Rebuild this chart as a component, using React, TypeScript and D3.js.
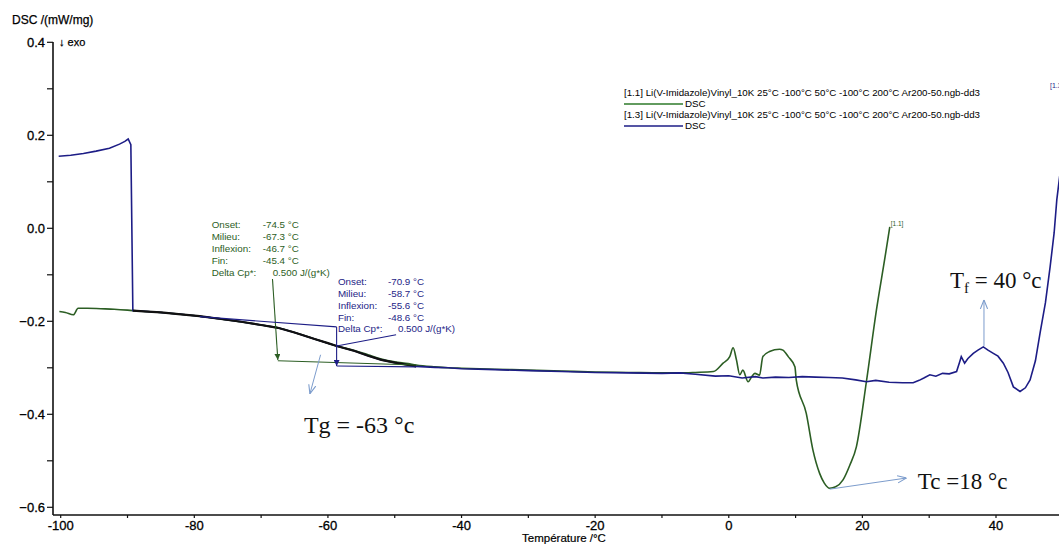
import React from "react";
import * as d3 from "d3";

// ---- data (°C, mW/mg) ----
const greenT = [-100.2, -99.3, -98.1, -97.4, -96, -94, -92, -90, -89.2, -87, -85, -82, -79.2, -76, -73, -70, -67.5, -65, -62, -60, -58.7, -56, -54, -52, -50, -48, -46.8, -44, -42, -40, -35, -30, -25, -20, -15, -10, -7.3, -5, -2.3, -0.85, 0.15, 0.65, 1.15, 1.65, 2.1, 2.9, 3.4, 3.9, 4.6, 5.1, 6.1, 7.6, 8.1, 8.9, 9.9, 10.1, 11.6, 12.6, 13.6, 14.3, 15.1, 16, 17.1, 18.1, 19.1, 20.6, 22.1, 23.4, 24.1];
const greenV = [-0.179, -0.181, -0.186, -0.172, -0.172, -0.173, -0.174, -0.176, -0.177, -0.179, -0.181, -0.185, -0.189, -0.195, -0.201, -0.208, -0.214, -0.224, -0.238, -0.247, -0.253, -0.263, -0.272, -0.281, -0.287, -0.291, -0.294, -0.298, -0.3, -0.301, -0.303, -0.305, -0.307, -0.309, -0.31, -0.311, -0.311, -0.31, -0.308, -0.29, -0.276, -0.257, -0.283, -0.315, -0.305, -0.33, -0.32, -0.312, -0.316, -0.276, -0.265, -0.26, -0.262, -0.276, -0.298, -0.326, -0.398, -0.477, -0.527, -0.548, -0.559, -0.556, -0.541, -0.51, -0.47, -0.33, -0.176, -0.061, 0.003];

const blueT = [-100.3, -98.5, -96.6, -94.7, -92.7, -91.2, -90.4, -89.9, -89.5, -89.2, -87, -85, -82, -79.2, -76, -73, -70, -67.5, -65, -62, -60, -58.7, -56, -54, -52, -50, -48, -46.8, -44, -42, -40, -35, -30, -25, -20, -15, -10, -7.3, -5, -2, 0, 2, 4, 5.1, 7, 9, 11, 13, 15, 17, 19, 20.6, 22, 24, 26, 27.6, 28.5, 29.2, 30.1, 31, 32, 33, 34.1, 34.5, 34.8, 35.3, 35.8, 36.6, 37.3, 38.1, 38.8, 39.6, 40.3, 41.1, 41.8, 42.6, 43.6, 44.4, 45.1, 45.9, 46.6, 47.4, 48.1, 48.7, 49.1, 49.6];
const blueV = [0.155, 0.157, 0.161, 0.166, 0.172, 0.181, 0.187, 0.192, 0.18, -0.177, -0.179, -0.181, -0.185, -0.189, -0.195, -0.201, -0.208, -0.214, -0.224, -0.238, -0.247, -0.253, -0.264, -0.274, -0.283, -0.289, -0.294, -0.297, -0.299, -0.3, -0.302, -0.304, -0.306, -0.308, -0.31, -0.311, -0.312, -0.311, -0.314, -0.318, -0.317, -0.322, -0.319, -0.322, -0.32, -0.321, -0.319, -0.32, -0.321, -0.322, -0.326, -0.33, -0.327, -0.331, -0.332, -0.332, -0.327, -0.322, -0.315, -0.318, -0.312, -0.313, -0.308, -0.29, -0.276, -0.29, -0.28, -0.269, -0.262, -0.255, -0.262, -0.269, -0.275, -0.29, -0.31, -0.341, -0.351, -0.343, -0.326, -0.285, -0.225, -0.16, -0.083, -0.01, 0.061, 0.12];

const xMajor = [-100, -80, -60, -40, -20, 0, 20, 40];
const xMinor = [-90, -70, -50, -30, -10, 10, 30, 50];
const yMajor = [0.4, 0.2, 0.0, -0.2, -0.4, -0.6];
const yMinor = [0.3, 0.1, -0.1, -0.3, -0.5];

const legendLabels = [
  "[1.1] Li(V-Imidazole)Vinyl_10K 25°C -100°C 50°C -100°C 200°C Ar200-50.ngb-dd3",
  "[1.3] Li(V-Imidazole)Vinyl_10K 25°C -100°C 50°C -100°C 200°C Ar200-50.ngb-dd3",
];

const greenBoxLabels = ["Onset:", "Milieu:", "Inflexion:", "Fin:", "Delta Cp*:"];
const greenBoxValues = ["-74.5 °C", "-67.3 °C", "-46.7 °C", "-45.4 °C", "0.500 J/(g*K)"];
const blueBoxLabels = ["Onset:", "Milieu:", "Inflexion:", "Fin:", "Delta Cp*:"];
const blueBoxValues = ["-70.9 °C", "-58.7 °C", "-55.6 °C", "-48.6 °C", "0.500 J/(g*K)"];

// annotation geometry in data units [T, v]
const greenBoxAnchor = [-77.4, 0.007];
const blueBoxAnchor = [-58.5, -0.115];
const greenStep = [[-68.3, -0.109], [-67.5, -0.283]];
const greenLower = [[-67.5, -0.285], [-46.8, -0.294]];
const blueUpper = [[-79.2, -0.19], [-58.7, -0.212]];
const blueStep = [[-58.7, -0.212], [-58.7, -0.296]];
const blueLower = [[-58.7, -0.296], [-46.8, -0.298]];
const bluePointer = [[-49.8, -0.229], [-58.7, -0.253]];
const tgArrow = [[-61.1, -0.272], [-62.7, -0.356]];
const tcArrow = [[15.1, -0.561], [26.6, -0.537]];
const tfArrow = [[38.2, -0.253], [38.2, -0.154]];
const tgLabel = [-63.6, -0.44];
const tcLabel = [28.3, -0.561];
const tfLabel = [33.1, -0.128];
const overlapRange = [-89.2, -46];

const W = 1059, H = 544;
const GREEN = "#2c5e24";
const BLUE = "#1d1d86";
const ARROW = "#7c9ccc";

export default function App() {
  const x = d3.scaleLinear().domain([-100, 40]).range([60.7, 996]);
  const y = d3.scaleLinear().domain([0.4, -0.6]).range([42.3, 507.3]);
  const axX = 53, axY = 515;
  const line = d3.line<[number, number]>().x(d => x(d[0])).y(d => y(d[1])).curve(d3.curveMonotoneX);
  const seg = d3.line<number[]>().x(d => x(d[0])).y(d => y(d[1]));
  const green = greenT.map((t, i) => [t, greenV[i]] as [number, number]);
  const blueAll = blueT.map((t, i) => [t, blueV[i]] as [number, number]);
  const overlap = blueAll.filter(d => d[0] >= overlapRange[0] && d[0] <= overlapRange[1]);
  const font = "'Liberation Sans', Arial, sans-serif";
  const serif = "'Liberation Serif', 'Times New Roman', serif";

  const blueLine = d3.line<[number, number]>().x(d => x(d[0])).y(d => y(d[1]));

  return (
    <svg width={W} height={H} style={{ position: "absolute", left: 0, top: 0, background: "#fff" }} fontFamily={font}>
      <defs>
        <clipPath id="plot"><rect x={axX} y={0} width={W - axX} height={axY} /></clipPath>
        <marker id="openArrow" viewBox="0 0 10 10" refX="10" refY="5" markerWidth="9" markerHeight="9" orient="auto" markerUnits="userSpaceOnUse">
          <path d="M0,1 L10,5 L0,9" fill="none" stroke={ARROW} strokeWidth="1.2" />
        </marker>
        <marker id="greenHead" viewBox="0 0 10 10" refX="10" refY="5" markerWidth="6" markerHeight="6" orient="auto" markerUnits="userSpaceOnUse">
          <path d="M0,0 L10,5 L0,10 z" fill={GREEN} />
        </marker>
        <marker id="blueHead" viewBox="0 0 10 10" refX="10" refY="5" markerWidth="6" markerHeight="6" orient="auto" markerUnits="userSpaceOnUse">
          <path d="M0,0 L10,5 L0,10 z" fill={BLUE} />
        </marker>
      </defs>

      {/* axes */}
      <text x={12} y={24} fontSize={12} fill="#000" stroke="#000" strokeWidth={0.25}>DSC /(mW/mg)</text>
      <text x={59} y={46} fontSize={11} fill="#000" stroke="#000" strokeWidth={0.25}>↓ exo</text>
      <line x1={axX} y1={42} x2={axX} y2={axY} stroke="#111" strokeWidth={1.6} />
      <line x1={axX} y1={axY} x2={W} y2={axY} stroke="#111" strokeWidth={1.6} />
      {yMajor.map(v => (
        <g key={"ym" + v}>
          <line x1={axX - 6} x2={axX} y1={y(v)} y2={y(v)} stroke="#111" strokeWidth={1.2} />
          <text x={axX - 8} y={y(v)} dy="0.35em" textAnchor="end" fontSize={13} fill="#000" stroke="#000" strokeWidth={0.3}>{d3.format(".1f")(v)}</text>
        </g>
      ))}
      {yMinor.map(v => (
        <line key={"yn" + v} x1={axX - 6} x2={axX} y1={y(v)} y2={y(v)} stroke="#111" strokeWidth={1.2} />
      ))}
      {xMajor.map(t => (
        <g key={"xm" + t}>
          <line x1={x(t)} x2={x(t)} y1={axY} y2={axY + 3} stroke="#111" strokeWidth={1.2} />
          <text x={x(t)} y={530} textAnchor="middle" fontSize={13} fill="#000" stroke="#000" strokeWidth={0.3}>{t}</text>
        </g>
      ))}
      {xMinor.map(t => (
        <line key={"xn" + t} x1={x(t)} x2={x(t)} y1={axY} y2={axY + 3} stroke="#111" strokeWidth={1.2} />
      ))}
      <text x={564} y={542} textAnchor="middle" fontSize={11.5} fill="#000" stroke="#000" strokeWidth={0.2}>Température /°C</text>

      {/* curves */}
      <g clipPath="url(#plot)">
        <path d={line(green) || ""} fill="none" stroke={GREEN} strokeWidth={1.6} />
        <path d={blueLine(blueAll) || ""} fill="none" stroke={BLUE} strokeWidth={1.6} />
        <path d={blueLine(overlap) || ""} fill="none" stroke="#111" strokeWidth={2.2} />
      </g>
      <text x={x(greenT[greenT.length - 1]) + 1} y={y(greenV[greenV.length - 1]) - 1} fontSize={6.5} fill={GREEN}>[1.1]</text>
      <text x={1050} y={88} fontSize={7} fill={BLUE}>[1.3]</text>

      {/* Tg analysis: green */}
      <path d={seg(greenStep) || ""} stroke={GREEN} strokeWidth={1.1} fill="none" markerEnd="url(#greenHead)" />
      <path d={seg(greenLower) || ""} stroke={GREEN} strokeWidth={1.1} fill="none" />
      {greenBoxLabels.map((l, i) => (
        <g key={"gb" + i} fontSize={9.8} fill={GREEN}>
          <text x={x(greenBoxAnchor[0])} y={y(greenBoxAnchor[1]) + i * 12} dy="0.35em">{l}</text>
          <text x={x(greenBoxAnchor[0]) + (i === 4 ? 61 : 51)} y={y(greenBoxAnchor[1]) + i * 12} dy="0.35em">{greenBoxValues[i]}</text>
        </g>
      ))}
      {/* Tg analysis: blue */}
      <path d={seg(blueUpper) || ""} stroke={BLUE} strokeWidth={1.1} fill="none" />
      <path d={seg(blueStep) || ""} stroke={BLUE} strokeWidth={1.1} fill="none" markerEnd="url(#blueHead)" />
      <path d={seg(blueLower) || ""} stroke={BLUE} strokeWidth={1.1} fill="none" />
      <path d={seg(bluePointer) || ""} stroke={BLUE} strokeWidth={1.1} fill="none" />
      {blueBoxLabels.map((l, i) => (
        <g key={"bb" + i} fontSize={9.8} fill={BLUE}>
          <text x={x(blueBoxAnchor[0])} y={y(blueBoxAnchor[1]) + i * 11.8} dy="0.35em">{l}</text>
          <text x={x(blueBoxAnchor[0]) + (i === 4 ? 60 : 50)} y={y(blueBoxAnchor[1]) + i * 11.8} dy="0.35em">{blueBoxValues[i]}</text>
        </g>
      ))}

      {/* annotations */}
      <path d={seg(tgArrow) || ""} stroke={ARROW} strokeWidth={1} fill="none" markerEnd="url(#openArrow)" />
      <path d={seg(tcArrow) || ""} stroke={ARROW} strokeWidth={1} fill="none" markerEnd="url(#openArrow)" />
      <path d={seg(tfArrow) || ""} stroke={ARROW} strokeWidth={1} fill="none" markerEnd="url(#openArrow)" />
      <text x={x(tgLabel[0])} y={y(tgLabel[1])} fontFamily={serif} fontSize={24} fill="#111">Tg = -63 °c</text>
      <text x={x(tcLabel[0])} y={y(tcLabel[1])} fontFamily={serif} fontSize={23} fill="#111">Tc =18 °c</text>
      <text x={x(tfLabel[0])} y={y(tfLabel[1])} fontFamily={serif} fontSize={23} fill="#111">
        T<tspan fontSize={15} dy={5}>f</tspan><tspan dy={-5}> = 40 °c</tspan>
      </text>

      {/* legend */}
      {legendLabels.map((l, i) => (
        <g key={"lg" + i} fontSize={9.8} fill="#000">
          <text x={624} y={93 + i * 22} dy="0.35em" textLength={356} lengthAdjust="spacingAndGlyphs">{l}</text>
          <line x1={624} x2={683} y1={104 + i * 22} y2={104 + i * 22} stroke={i === 0 ? "#2e7a2a" : BLUE} strokeWidth={1.3} />
          <text x={685} y={104 + i * 22} dy="0.35em">DSC</text>
        </g>
      ))}
    </svg>
  );
}
